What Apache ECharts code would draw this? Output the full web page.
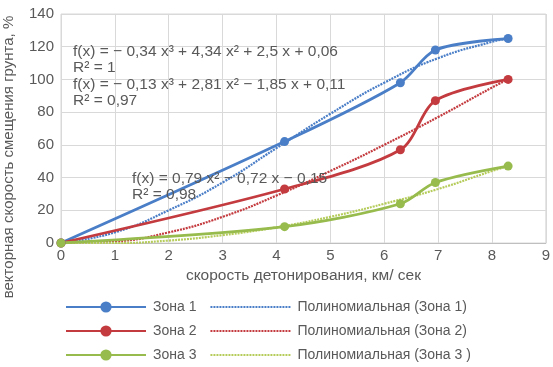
<!DOCTYPE html>
<html>
<head>
<meta charset="utf-8">
<script src="https://cdn.jsdelivr.net/npm/echarts@6/dist/echarts.min.js"></script>
<style>
  html, body { margin: 0; padding: 0; background: #fff; }
  #chart { width: 553px; height: 367px; }
</style>
</head>
<body>
<div id="chart"></div>
<script>
var zoneX = [0, 4.15, 6.3, 6.95, 8.3];
var zone1 = [0, 62, 98, 118, 125];
var zone2 = [0, 33, 57, 87, 100];
var zone3 = [0, 10, 24, 37, 47];

var trendX = [0, 1, 2, 3, 4, 5, 6, 7, 8, 8.3];
var trend1 = [0, 6.5, 20, 37, 58, 79, 98, 113, 123, 125];
var trend2 = [0, 1, 6.5, 16, 29, 44, 60, 77, 95, 100];
var trend3 = [0, 0, 1.5, 4.8, 9.6, 16, 24, 33, 44, 47];

var names = ['Зона 1', 'Зона 2', 'Зона 3'];
var trendNames = ['Полиномиальная (Зона 1)', 'Полиномиальная (Зона 2)', 'Полиномиальная (Зона 3 )'];
var colors = ['#4a7ec7', '#c43b3f', '#97bb4c'];
var trendColors = ['#4a7ec7', '#c43b3f', '#b5cc5a'];

function pairs(xs, ys) {
  return xs.map(function (x, i) { return [x, ys[i]]; });
}

var font = 'Liberation Sans, Arial, sans-serif';
var txt = '#595959';

var series = [];
var zones = [zone1, zone2, zone3];
var trends = [trend1, trend2, trend3];
for (var i = 0; i < 3; i++) {
  series.push({
    name: trendNames[i],
    type: 'line',
    data: pairs(trendX, trends[i]),
    smooth: true,
    symbol: 'none',
    lineStyle: { color: trendColors[i], width: 2.2, type: [2, 1] },
    itemStyle: { color: trendColors[i] },
    z: 2
  });
  series.push({
    name: names[i],
    type: 'line',
    data: pairs(zoneX, zones[i]),
    smooth: 0.3,
    symbol: 'circle',
    symbolSize: 9,
    lineStyle: { color: colors[i], width: 2.8 },
    itemStyle: { color: colors[i] },
    z: 3
  });
}

function legendRow(i, top) {
  return {
    left: 60,
    top: top,
    itemWidth: 80,
    itemHeight: 14,
    itemGap: 13,
    data: [names[i], { name: trendNames[i], itemStyle: { opacity: 0 } }],
    textStyle: { color: txt, fontSize: 14, fontFamily: font, padding: [0, 0, 0, 2] }
  };
}

var chart = echarts.init(document.getElementById('chart'));
chart.setOption({
  animation: false,
  grid: {
    left: 61, right: 6, top: 14, bottom: 124,
    show: true, borderColor: '#d9d9d9', borderWidth: 1
  },
  xAxis: {
    type: 'value', min: 0, max: 9, interval: 1,
    name: 'скорость детонирования, км/ сек',
    nameLocation: 'middle', nameGap: 18,
    nameTextStyle: { color: txt, fontSize: 15.5, fontFamily: font },
    axisLine: { show: true, lineStyle: { color: '#bfbfbf' } },
    axisTick: { show: false },
    axisLabel: { color: txt, fontSize: 15, fontFamily: font, margin: 5 },
    splitLine: { show: true, lineStyle: { color: '#d9d9d9' } }
  },
  yAxis: {
    type: 'value', min: 0, max: 140, interval: 20,
    axisLine: { show: false },
    axisTick: { show: false },
    axisLabel: { color: txt, fontSize: 15, fontFamily: font, margin: 7 },
    splitLine: { show: true, lineStyle: { color: '#d9d9d9' } }
  },
  legend: [legendRow(0, 295), legendRow(1, 319), legendRow(2, 343)],
  graphic: [
    { type: 'text', x: 9, y: 157, rotation: Math.PI / 2,
      style: { text: 'векторная скорость смещения грунта, %', fill: txt, font: '15px ' + font, align: 'center', verticalAlign: 'middle' } },
    { type: 'text', left: 73, top: 44, z: 10,
      style: { text: 'f(x) = − 0,34 x³ + 4,34 x² + 2,5 x + 0,06', fill: txt, font: '15.5px ' + font } },
    { type: 'text', left: 73, top: 60, z: 10,
      style: { text: 'R² = 1', fill: txt, font: '15.5px ' + font } },
    { type: 'text', left: 73, top: 77, z: 10,
      style: { text: 'f(x) = − 0,13 x³ + 2,81 x² − 1,85 x + 0,11', fill: txt, font: '15.5px ' + font } },
    { type: 'text', left: 73, top: 93, z: 10,
      style: { text: 'R² = 0,97', fill: txt, font: '15.5px ' + font } },
    { type: 'text', left: 132, top: 171, z: 10,
      style: { text: 'f(x) = 0,79 x² − 0,72 x − 0,15', fill: txt, font: '15.5px ' + font } },
    { type: 'text', left: 132, top: 187, z: 10,
      style: { text: 'R² = 0,98', fill: txt, font: '15.5px ' + font } }
  ],
  series: series
});
</script>
</body>
</html>
